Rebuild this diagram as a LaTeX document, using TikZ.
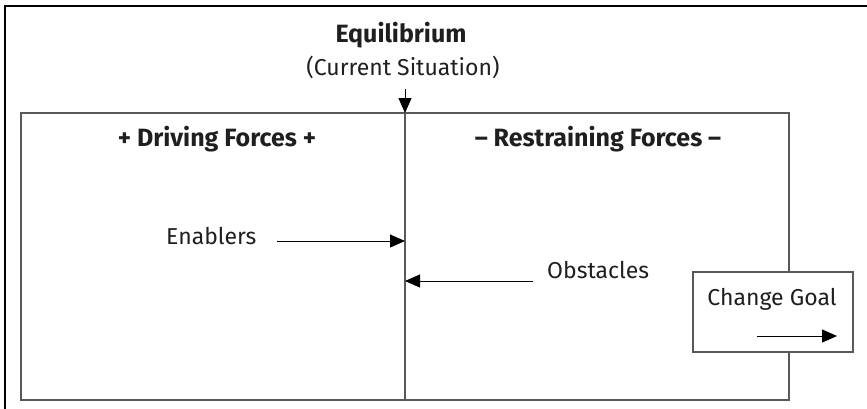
\documentclass[tikz,border=0pt]{standalone}
\usepackage{fontspec}
\setmainfont{Fira Sans}
\usetikzlibrary{arrows.meta}
\begin{document}
\begin{tikzpicture}[x=1pt,y=-1pt,
  frame/.style={draw=black,line width=1.5pt},
  panel/.style={draw=black!65,line width=1.5pt},
  force/.style={line width=1pt,-{Triangle[length=15pt,width=13pt]}},
  label/.style={font=\fontsize{23}{27}\selectfont,text=black!88,inner sep=0pt},
  heading/.style={font=\fontsize{25}{29}\selectfont\bfseries,text=black!88,inner sep=0pt}]
\useasboundingbox (0,0) rectangle (867,408);
\fill[white] (0,0) rectangle (867,408);
% outer frame, cut by the page on the right and at the bottom
\draw[frame] (5,410) -- (5,6) -- (869,6);
% force-field panel
\coordinate (tl) at (21,113);
\coordinate (br) at (789,400);
\draw[panel] (tl) rectangle (br);
\coordinate (divtop) at (405,113);
\coordinate (divbot) at (405,400);
\draw[panel] (divtop) -- (divbot);
% headings
\node[heading] (eq) at (401,35) {Equilibrium};
\node[label] (cur) at (403,67) {(Current Situation)};
\coordinate (eqarrow) at (405,89);
\draw[force] (eqarrow) -- (divtop);
\node[heading] (drive) at (217,139) {+ Driving Forces +};
\node[heading] (restrain) at (598,139) {– Restraining Forces –};
% forces
\node[label,anchor=west] (enab) at (166,236) {Enablers};
\coordinate (enabstart) at (277,241);
\coordinate (enabend) at (405,241);
\draw[force] (enabstart) -- (enabend);
\node[label,anchor=west] (obst) at (547,270) {Obstacles};
\coordinate (obststart) at (533,281);
\coordinate (obstend) at (405,281);
\draw[force] (obststart) -- (obstend);
% change goal
\node[panel,fill=white,minimum width=160pt,minimum height=80pt,inner sep=0pt] (goal) at (773,312) {};
\node[label] (goaltext) at (772,299) {Change Goal};
\coordinate (goalstart) at (757,336);
\coordinate (goalend) at (837,336);
\draw[force] (goalstart) -- (goalend);
\end{tikzpicture}
\end{document}
